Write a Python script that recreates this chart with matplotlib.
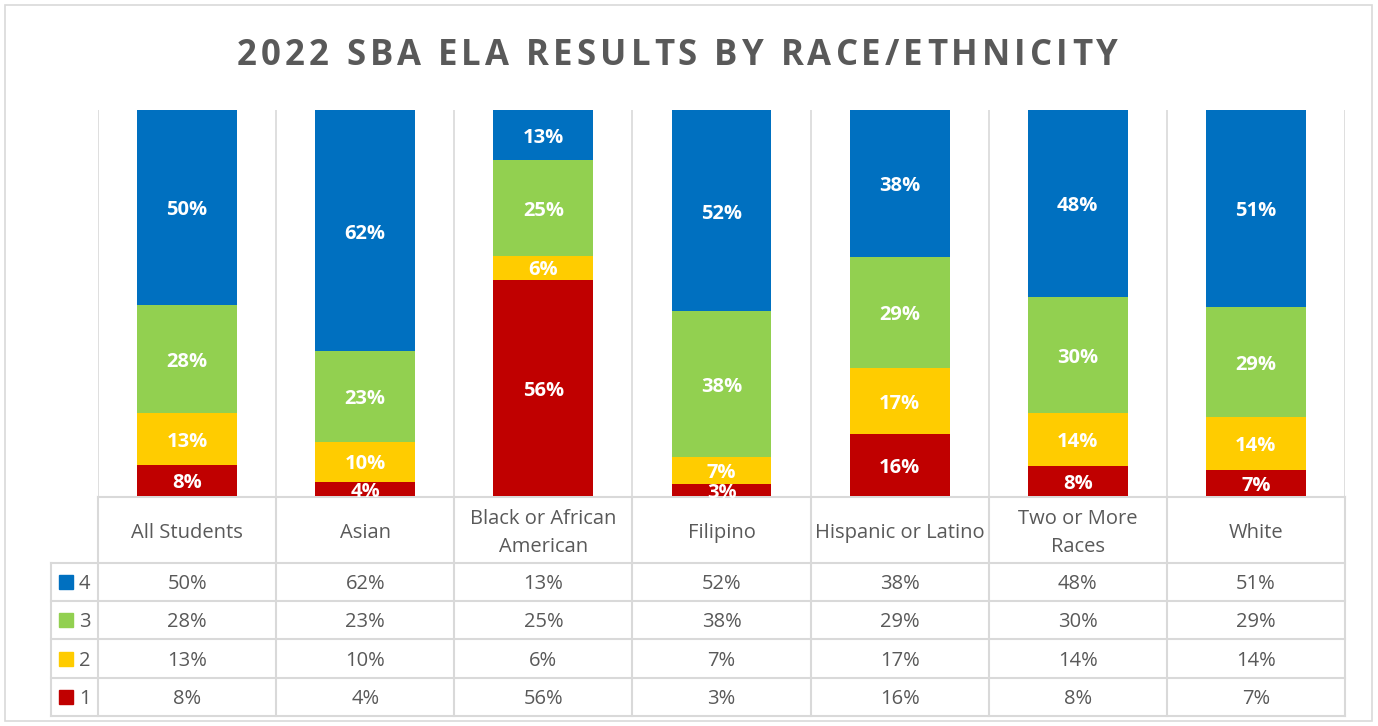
import matplotlib
matplotlib.use("Agg")
import matplotlib.pyplot as plt
from matplotlib.patches import Rectangle

categories = ["All Students", "Asian", "Black or African\nAmerican", "Filipino",
              "Hispanic or Latino", "Two or More\nRaces", "White"]
# shares (labels show them rounded)
level1 = [8.0, 3.7, 56.0, 3.1, 16.0, 7.9, 6.7]
level2 = [13.4, 10.4, 6.3, 7.0, 17.1, 13.6, 13.7]
level3 = [28.2, 23.4, 24.7, 37.7, 28.8, 30.1, 28.6]
level4 = [50.4, 62.4, 13.0, 52.2, 38.1, 48.4, 50.9]
colors = {"1": "#C00000", "2": "#FFCC00", "3": "#92D050", "4": "#0070C0"}
title = "2022 SBA ELA RESULTS BY RACE/ETHNICITY"

W, H = 1378, 726
GRAY = "#595959"
LINE = "#D9D9D9"
FONT = "Open Sans"

fig = plt.figure(figsize=(W / 100, H / 100), dpi=100)

# overlay in pixel coords for border, title and data table
ov = fig.add_axes([0, 0, 1, 1])
ov.set_xlim(0, W)
ov.set_ylim(H, 0)
ov.axis("off")
ov.add_patch(Rectangle((5, 5), 1367, 716, fill=False, ec=LINE, lw=1.2))

# title with letter spacing (excel style)
renderer = fig.canvas.get_renderer()
tkw = dict(fontsize=25, fontweight="bold", color=GRAY, family=FONT)

def text_w(s):
    t = ov.text(0, 0, s, **tkw)
    w = t.get_window_extent(renderer).width
    t.remove()
    return w

ref_w = text_w("I")
offsets = [text_w(title[:k] + "I") - ref_w if k else 0.0 for k in range(len(title))]
natural = text_w(title)
t_left, t_right = 237, 1118
track = (t_right - t_left - natural) / (len(title) - 1)
for k, ch in enumerate(title):
    ov.text(t_left + offsets[k] + k * track, 65, ch, ha="left", va="baseline", **tkw)

# plot area
x0, x1, ytop, ybot = 98, 1345, 110, 496
ax = fig.add_axes([x0 / W, (H - ybot) / H, (x1 - x0) / W, (ybot - ytop) / H])
ax.set_xlim(-0.5, len(categories) - 0.5)
ax.set_ylim(0, 100)
ax.axis("off")
for xb in range(len(categories) + 1):
    ax.axvline(xb - 0.5, color=LINE, lw=1.2, zorder=0)

series = [("1", level1), ("2", level2), ("3", level3), ("4", level4)]
bottom = [0] * len(categories)
for name, vals in series:
    xs = range(len(categories))
    ax.bar(xs, vals, bottom=bottom, width=0.56, color=colors[name], zorder=2)
    for i, v in enumerate(vals):
        ax.annotate(f"{v:.0f}%", (i, bottom[i] + v / 2), xytext=(0, -2), textcoords="offset points",
                    ha="center", va="center", color="white", fontsize=14.5,
                    fontweight="bold", family=FONT, zorder=3, annotation_clip=False)
    bottom = [b + v for b, v in zip(bottom, vals)]

# data table
colw = (x1 - x0) / len(categories)
head_top, head_bot = 497, 563
row_edges = [563, 601, 639, 678, 716]
leg_left = 51
for r in row_edges:
    ov.plot([leg_left, x1], [r, r], color=LINE, lw=1.5)
ov.plot([x0, x1], [head_top, head_top], color=LINE, lw=1.5)
ov.plot([leg_left, leg_left], [head_bot, row_edges[-1]], color=LINE, lw=1.5)
for i in range(len(categories) + 1):
    xx = x0 + i * colw
    ov.plot([xx, xx], [head_top, row_edges[-1]], color=LINE, lw=1.5)
for i, c in enumerate(categories):
    ov.text(x0 + (i + 0.5) * colw, (head_top + head_bot) / 2 + 3, c, ha="center", va="center",
            fontsize=14.5, color=GRAY, family=FONT, linespacing=1.5)

table_rows = [("4", level4), ("3", level3), ("2", level2), ("1", level1)]
for k, (name, vals) in enumerate(table_rows):
    yc = (row_edges[k] + row_edges[k + 1]) / 2
    ov.add_patch(Rectangle((59, yc - 7), 14, 14, color=colors[name]))
    ov.text(79, yc + 2, name, ha="left", va="center", fontsize=14.5, color=GRAY, family=FONT)
    for i, v in enumerate(vals):
        ov.text(x0 + (i + 0.5) * colw, yc + 2, f"{v:.0f}%", ha="center", va="center",
                fontsize=14.5, color=GRAY, family=FONT)

fig.savefig("out.png", dpi=100, facecolor="white")
